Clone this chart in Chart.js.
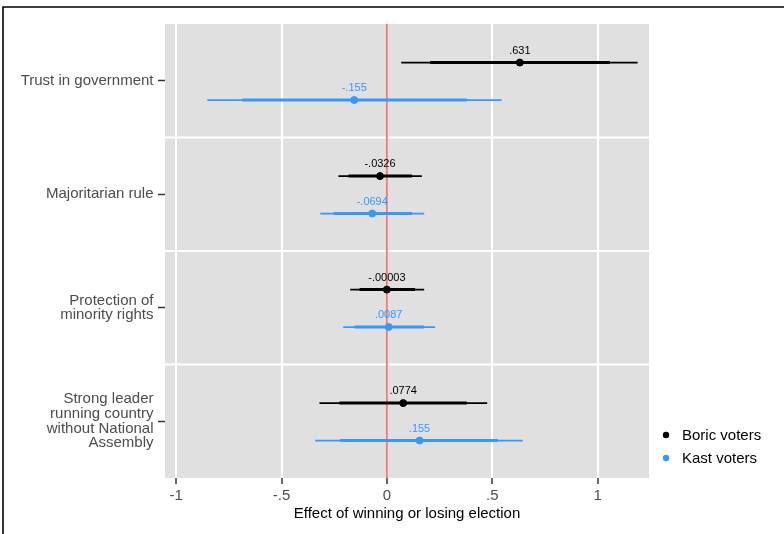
<!DOCTYPE html>
<html>
<head>
<meta charset="utf-8">
<script src="https://cdn.jsdelivr.net/npm/chart.js@4.4.1/dist/chart.umd.min.js"></script>
<style>
  html, body { margin: 0; padding: 0; background: #ffffff; }
  #wrap { width: 784px; height: 534px; position: relative; }
</style>
</head>
<body>
<div id="wrap"><canvas id="c" width="784" height="534"></canvas></div>
<script>
// ---- data ----
const categories = [
  "Trust in government",
  "Majoritarian rule",
  ["Protection of", "minority rights"],
  ["Strong leader", "running country", "without National", "Assembly"]
];
const seriesNames = ["Boric voters", "Kast voters"];
const boricEst   = [0.631, -0.0326, -0.00003, 0.0774];
const boricLabel = [".631", "-.0326", "-.00003", ".0774"];
const boricLo95  = [0.068, -0.230, -0.174, -0.320];
const boricHi95  = [1.190,  0.166,  0.177,  0.476];
const boricLo84  = [0.205, -0.182, -0.130, -0.225];
const boricHi84  = [1.059,  0.119,  0.134,  0.379];
const kastEst    = [-0.155, -0.0694, 0.0087, 0.155];
const kastLabel  = ["-.155", "-.0694", ".0087", ".155"];
const kastLo95   = [-0.852, -0.316, -0.207, -0.340];
const kastHi95   = [ 0.545,  0.177,  0.229,  0.645];
const kastLo84   = [-0.686, -0.253, -0.154, -0.222];
const kastHi84   = [ 0.379,  0.119,  0.177,  0.527];
const xTicks = [-1, -0.5, 0, 0.5, 1];
const xTickLabels = ["-1", "-.5", "0", ".5", "1"];
const xTitle = "Effect of winning or losing election";

// ---- styling / layout ----
const FONT = "'Liberation Sans', Arial, Helvetica, sans-serif";
const BORIC = "#000000";
const KAST = "#3399FF";
const ZERO = "#F8766D";
const PANEL = "#E0E0E0";
const OFF_B = -0.16, OFF_K = 0.17;
const catPos = categories.map((_, i) => i);

function segs(lo, hi, off) {
  const out = [];
  lo.forEach((l, i) => {
    out.push({x: l, y: i + off}, {x: hi[i], y: i + off}, {x: null, y: null});
  });
  return out;
}
function pts(est, off) { return est.map((v, i) => ({x: v, y: i + off})); }

const panelPlugin = {
  id: 'panels',
  beforeDraw(chart) {
    const {ctx, chartArea, scales} = chart;
    const y = scales.y;
    ctx.save();
    ctx.fillStyle = PANEL;
    catPos.forEach((p, i) => {
      let top = y.getPixelForValue(p - 0.5);
      let bot = y.getPixelForValue(p + 0.5);
      if (i > 0) top += 1;
      if (i < catPos.length - 1) bot -= 1;
      ctx.fillRect(chartArea.left, top, chartArea.right - chartArea.left, bot - top);
    });
    ctx.restore();
  },
  afterDatasetsDraw(chart) {
    const {ctx, scales, chartArea} = chart;
    const x = scales.x, y = scales.y;
    ctx.save();
    ctx.font = "11px " + FONT;
    ctx.textAlign = "center";
    ctx.textBaseline = "middle";
    boricEst.forEach((v, i) => {
      ctx.fillStyle = BORIC;
      ctx.fillText(boricLabel[i], x.getPixelForValue(v), y.getPixelForValue(i + OFF_B) - 12);
    });
    kastEst.forEach((v, i) => {
      ctx.fillStyle = KAST;
      ctx.fillText(kastLabel[i], x.getPixelForValue(v), y.getPixelForValue(i + OFF_K) - 12);
    });
    // legend
    const cols = [BORIC, KAST];
    ctx.font = "15px " + FONT;
    ctx.textAlign = "left";
    seriesNames.forEach((n, i) => {
      const ly = 435 + i * 23;
      ctx.fillStyle = cols[i];
      ctx.beginPath();
      ctx.arc(chartArea.right + 17, ly, 3.2, 0, Math.PI * 2);
      ctx.fill();
      ctx.fillStyle = "#000000";
      ctx.fillText(n, chartArea.right + 33, ly + 1);
    });
    ctx.restore();
  },
  afterDraw(chart) {
    const {ctx} = chart;
    ctx.save();
    ctx.strokeStyle = "#000000";
    ctx.lineWidth = 1.6;
    ctx.beginPath();
    ctx.moveTo(3, 534);
    ctx.lineTo(3, 7);
    ctx.lineTo(784, 7);
    ctx.stroke();
    ctx.restore();
  }
};

new Chart(document.getElementById('c'), {
  type: 'line',
  data: {
    datasets: [
      {label: 'zero', data: [{x: 0, y: -0.5}, {x: 0, y: catPos.length - 0.5}], borderColor: ZERO, borderWidth: 1.8, pointRadius: 0, order: 10},
      {label: 'b95', data: segs(boricLo95, boricHi95, OFF_B), borderColor: BORIC, borderWidth: 1.7, pointRadius: 0, spanGaps: false, order: 5},
      {label: 'k95', data: segs(kastLo95, kastHi95, OFF_K), borderColor: KAST, borderWidth: 1.7, pointRadius: 0, spanGaps: false, order: 5},
      {label: 'b84', data: segs(boricLo84, boricHi84, OFF_B), borderColor: BORIC, borderWidth: 3, pointRadius: 0, spanGaps: false, order: 4},
      {label: 'k84', data: segs(kastLo84, kastHi84, OFF_K), borderColor: KAST, borderWidth: 3, pointRadius: 0, spanGaps: false, order: 4},
      {type: 'scatter', label: seriesNames[0], data: pts(boricEst, OFF_B), backgroundColor: BORIC, borderColor: BORIC, pointRadius: 3.5, showLine: false, order: 1},
      {type: 'scatter', label: seriesNames[1], data: pts(kastEst, OFF_K), backgroundColor: KAST, borderColor: KAST, pointRadius: 3.5, showLine: false, order: 1}
    ]
  },
  options: {
    responsive: false,
    animation: false,
    devicePixelRatio: 1,
    layout: {padding: {left: 0, right: 135, top: 24, bottom: 8}},
    plugins: {legend: {display: false}, tooltip: {enabled: false}},
    scales: {
      x: {
        type: 'linear',
        position: 'bottom',
        min: -1.053,
        max: 1.244,
        afterBuildTicks: s => { s.ticks = xTicks.map(v => ({value: v})); },
        afterFit: s => { s.height = 48; s.paddingLeft = 0; s.paddingRight = 0; },
        grid: {color: '#FFFFFF', lineWidth: 2, tickColor: '#333333', tickWidth: 1.5, tickLength: 6},
        border: {display: false},
        ticks: {
          font: {family: FONT, size: 15},
          color: '#4D4D4D',
          padding: 3,
          maxRotation: 0,
          autoSkip: false,
          callback: v => { const i = xTicks.indexOf(v); return i >= 0 ? xTickLabels[i] : ''; }
        },
        title: {display: true, text: xTitle, color: '#000000', font: {family: FONT, size: 15}, padding: {top: 2, bottom: 3.5}}
      },
      y: {
        type: 'linear',
        reverse: true,
        min: -0.5,
        max: catPos.length - 0.5,
        afterBuildTicks: s => { s.ticks = catPos.map(v => ({value: v})); },
        afterFit: s => { s.width = 165; s.paddingTop = 0; s.paddingBottom = 0; },
        grid: {drawOnChartArea: false, tickColor: '#333333', tickWidth: 1.5, tickLength: 7},
        border: {display: false},
        ticks: {
          font: {family: FONT, size: 15, lineHeight: 0.98},
          color: '#4D4D4D',
          padding: 4.5,
          autoSkip: false,
          callback: v => categories[v]
        }
      }
    }
  },
  plugins: [panelPlugin]
});
</script>
</body>
</html>
